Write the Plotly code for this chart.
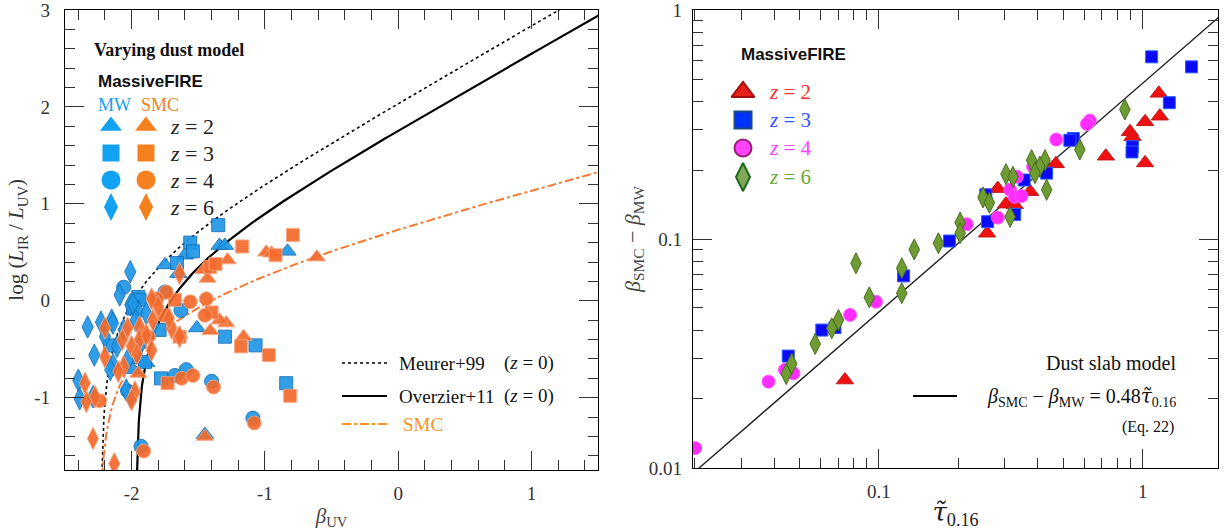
import numpy as np
import plotly.graph_objects as go

# ---------------- Left panel: IRX - beta relation ----------------
# MassiveFIRE galaxies, Milky-Way-type dust
mw_z2_beta = [-1.34, -1.30, -0.83, -1.60, -1.75, -1.65, -1.51, -1.45, -1.94, -1.89, -1.99]
mw_z2_irx = [0.57, 0.57, 0.51, 0.47, 0.37, 0.28, -0.28, -1.38, -0.61, -0.64, -0.71]
mw_z3_beta = [-1.35, -1.56, -1.54, -1.66, -1.95, -1.94, -1.99, -2.16, -1.30, -1.07, -1.78, -0.84, -1.79, -1.90]
mw_z3_irx = [0.78, 0.60, 0.51, 0.39, 0.04, 0.01, -0.08, -0.46, -0.37, -0.46, -0.80, -0.85, -0.30, -0.63]
mw_z4_beta = [-2.06, -1.75, -1.63, -1.675, -1.59, -1.40, -1.09, -1.93, -2.03]
mw_z4_irx = [0.14, 0.09, -0.10, -0.77, -0.71, -0.83, -1.21, -1.50, -0.93]
mw_z6_beta = [-2.01, -2.09, -2.33, -2.23, -2.15, -2.20, -2.28, -2.14, -2.14, -2.16, -2.01, -1.95,
              -1.93, -1.89, -2.11, -2.03, -2.01, -2.04, -2.40, -2.39, -2.29, -1.99, -1.97, -2.06]
mw_z6_irx = [0.30, 0.06, -0.27, -0.22, -0.20, -0.37, -0.56, -0.23, -0.66, -0.71, -0.04, -0.11,
             -0.44, -0.13, -0.47, -0.61, -0.99, -0.92, -0.82, -1.01, -0.99, -0.03, -0.20, -0.30]

# Same galaxies, SMC-type dust
smc_z2_beta = [-0.61, -0.99, -0.95, -1.28, -1.43, -1.46, -1.29, -1.34, -1.41, -1.16, -1.45, -1.95, -1.64]
smc_z2_irx = [0.45, 0.50, 0.49, 0.42, 0.23, 0.32, -0.23, -0.20, -0.31, -0.37, -1.40, -0.75, -0.35]
smc_z3_beta = [-0.79, -1.17, -0.92, -1.41, -1.675, -1.40, -1.64, -1.18, -0.97, -1.73, -0.81, -1.37]
smc_z3_irx = [0.68, 0.56, 0.47, 0.35, 0.01, -0.12, -0.37, -0.47, -0.56, -0.85, -0.98, 0.38]
smc_z4_beta = [-1.74, -1.56, -1.44, -1.45, -1.625, -1.54, -1.385, -1.08, -1.91, -2.24, -1.875, -1.76, -1.81]
smc_z4_irx = [0.09, -0.01, 0.02, -0.15, -0.80, -0.77, -0.89, -1.26, -1.55, -1.03, -0.37, -0.15, 0.02]
smc_z6_beta = [-1.64, -1.85, -1.80, -1.70, -1.64, -2.03, -1.94, -2.07, -2.00, -1.94, -1.89, -2.06, -2.10,
               -2.20, -2.20, -1.85, -1.84, -1.975, -2.00, -2.275, -2.34, -2.35, -2.29, -2.13, -1.72, -1.96]
smc_z6_irx = [0.28, 0.02, -0.06, -0.28, -0.37, -0.28, -0.27, -0.40, -0.47, -0.40, -0.35, -0.68, -0.73,
              -0.58, -0.28, -0.51, -0.20, -0.94, -1.02, -0.99, -1.04, -0.85, -1.42, -1.68, -0.18, -0.55]

# ---------------- Right panel: colour shift vs optical depth ----------------
tau_z2 = [1.15, 1.16, 1.02, 0.894, 0.914, 1.02, 0.724, 0.468, 0.374, 0.282, 0.303, 0.327, 0.257, 0.0743]
dbeta_z2 = [0.433, 0.344, 0.325, 0.294, 0.28, 0.215, 0.23, 0.213, 0.161, 0.166, 0.142, 0.141, 0.106, 0.0242]
tau_z3 = [1.08, 1.53, 1.26, 0.914, 0.91, 0.545, 0.529, 0.432, 0.355, 0.327, 0.258, 0.254, 0.185, 0.124,
          0.0607, 0.0681, 0.0453]
dbeta_z3 = [0.625, 0.565, 0.394, 0.253, 0.24, 0.275, 0.27, 0.194, 0.181, 0.128, 0.119, 0.156, 0.098, 0.069,
            0.040, 0.041, 0.0308]
tau_z4 = [0.63, 0.614, 0.47, 0.384, 0.333, 0.314, 0.327, 0.347, 0.282, 0.215, 0.0974, 0.0777, 0.0381,
          0.0474, 0.044, 0.0201]
dbeta_z4 = [0.329, 0.318, 0.272, 0.207, 0.187, 0.164, 0.153, 0.154, 0.124, 0.116, 0.0532, 0.0466, 0.0238,
            0.0259, 0.0268, 0.0122]
tau_z6 = [0.855, 0.577, 0.379, 0.426, 0.407, 0.39, 0.432, 0.303, 0.322, 0.314, 0.248, 0.262, 0.203, 0.203,
          0.168, 0.136, 0.122, 0.122, 0.0818, 0.0919, 0.0702, 0.0662, 0.0573, 0.0467, 0.0445]
dbeta_z6 = [0.368, 0.246, 0.221, 0.221, 0.207, 0.194, 0.164, 0.192, 0.187, 0.125, 0.152, 0.144, 0.118, 0.106,
            0.0958, 0.090, 0.0745, 0.058, 0.0783, 0.0556, 0.0443, 0.0407, 0.0348, 0.0285, 0.0257]

slab_slope = 0.48

# Reference IRX-beta relations: IRX = log10(c * (10^(0.4*A) - 1)), A = a + b*beta
meurer = dict(a=4.43, b=1.99, c=1.85)
overzier = dict(a=3.85, b=1.96, c=1.68)
smc_rel = dict(a=0.9 * 2.24, b=0.9, c=1.0)

SERIF = "Liberation Serif, Times New Roman, serif"
SANS = "Liberation Sans, Arial, sans-serif"
MW_FILL, MW_EDGE = "#1f97e6", "#1670b8"
SMC_FILL, SMC_EDGE = "#f26a2c", "#f6a27c"
MW_KEY, SMC_KEY = "#12a2f2", "#f5801e"
TAU = "<span style=\"font-family:DejaVu Serif\"><i>τ̃</i></span>"

W, H = 1229, 530


def irx_curve(rel, beta):
    arg = rel["c"] * (10 ** (0.4 * (rel["a"] + rel["b"] * beta)) - 1)
    out = np.full_like(beta, np.nan)
    ok = arg > 0
    out[ok] = np.log10(arg[ok])
    return out


fig = go.Figure()

# IRX-beta reference curves
for rel, dash, color, width, x0 in [
    (meurer, "dot", "black", 1.6, -2.226),
    (overzier, "solid", "black", 2.2, -1.9643),
    (smc_rel, "dashdot", "#f47a36", 2.0, -2.2399),
]:
    bb = np.concatenate([x0 + np.logspace(-5, -1, 80), np.linspace(x0 + 0.11, 1.6, 300)])
    fig.add_trace(go.Scatter(x=bb, y=irx_curve(rel, bb), mode="lines",
                             line=dict(color=color, dash=dash, width=width),
                             xaxis="x", yaxis="y", hoverinfo="skip", showlegend=False))

left_sets = [
    (mw_z2_beta, mw_z2_irx, "triangle-up", 15, MW_FILL, MW_EDGE),
    (mw_z3_beta, mw_z3_irx, "square", 13, MW_FILL, MW_EDGE),
    (mw_z4_beta, mw_z4_irx, "circle", 14, MW_FILL, MW_EDGE),
    (mw_z6_beta, mw_z6_irx, "diamond-tall", 16, MW_FILL, MW_EDGE),
    (smc_z2_beta, smc_z2_irx, "triangle-up", 15, SMC_FILL, SMC_EDGE),
    (smc_z3_beta, smc_z3_irx, "square", 13, SMC_FILL, SMC_EDGE),
    (smc_z4_beta, smc_z4_irx, "circle", 14, SMC_FILL, SMC_EDGE),
    (smc_z6_beta, smc_z6_irx, "diamond-tall", 16, SMC_FILL, SMC_EDGE),
]
for bx, by, sym, size, fill, edge in left_sets:
    fig.add_trace(go.Scatter(x=bx, y=by, mode="markers", xaxis="x", yaxis="y",
                             marker=dict(symbol=sym, size=size, color=fill, opacity=0.92,
                                         line=dict(color=edge, width=1)),
                             showlegend=False))

# Dust slab model line
tt = np.logspace(-2.2, 0.5, 50)
fig.add_trace(go.Scatter(x=tt, y=slab_slope * tt, mode="lines", xaxis="x2", yaxis="y2",
                         line=dict(color="#222222", width=1.4), showlegend=False))

right_sets = [
    (tau_z2, dbeta_z2, "triangle-up", 15, "#f01010", "#c01818"),
    (tau_z3, dbeta_z3, "square", 12, "#0a0af5", "#2a5cff"),
    (tau_z4, dbeta_z4, "circle", 13, "#ff2cff", "#ff5cff"),
    (tau_z6, dbeta_z6, "diamond-tall", 15, "#6e9b32", "#476e1e"),
]
for tx, ty, sym, size, fill, edge in right_sets:
    fig.add_trace(go.Scatter(x=tx, y=ty, mode="markers", xaxis="x2", yaxis="y2",
                             marker=dict(symbol=sym, size=size, color=fill,
                                         line=dict(color=edge, width=1)),
                             showlegend=False))

# ---------- keys, placed on a full-figure pixel frame ----------
def key_marker(x, y, sym, size, fill, edge, lw=1):
    fig.add_trace(go.Scatter(x=[x], y=[y], mode="markers", xaxis="x3", yaxis="y3",
                             marker=dict(symbol=sym, size=size, color=fill, line=dict(color=edge, width=lw)),
                             showlegend=False, hoverinfo="skip"))


def key_line(x0, x1, y, dash, color, width):
    fig.add_trace(go.Scatter(x=[x0, x1], y=[y, y], mode="lines", xaxis="x3", yaxis="y3",
                             line=dict(color=color, dash=dash, width=width),
                             showlegend=False, hoverinfo="skip"))


ann = []


def text(x, y, s, size, color="#111111", family=SERIF, anchor="left"):
    ann.append(dict(x=x, y=y, xref="x3", yref="y3", text=s, showarrow=False,
                    xanchor=anchor, yanchor="middle", font=dict(size=size, color=color, family=family)))


z_labels = ["2", "3", "4", "6"]
key_syms = [("triangle-up", 19), ("square", 17), ("circle", 19), ("diamond-tall", 20)]
rows_left = [126, 153, 180, 207]
text(92, 50, "<b>Varying dust model</b>", 18)
text(96, 81, "<b>MassiveFIRE</b>", 17, family=SANS)
text(96, 105, "MW", 18, MW_KEY)
text(139, 105, "SMC", 18, SMC_KEY)
for (sym, sz), yy, zl in zip(key_syms, rows_left, z_labels):
    key_marker(111, yy, sym, sz, MW_KEY, MW_KEY, 0)
    key_marker(146, yy, sym, sz, SMC_KEY, SMC_KEY, 0)
    text(168, yy, "<i>z</i> = " + zl, 22, "#222222")

key_line(342, 387, 363, "dot", "black", 1.6)
key_line(342, 387, 396, "solid", "black", 2.2)
key_line(342, 387, 424, "dashdot", "#f7941d", 2.0)
text(397, 363, "Meurer+99", 19)
text(502, 363, "(<i>z</i> = 0)", 19)
text(397, 396, "Overzier+11", 19)
text(502, 396, "(<i>z</i> = 0)", 19)
text(401, 424, "SMC", 19, "#f7941d")

rows_right = [92, 120, 148, 177]
right_key = [
    ("triangle-up", 20, "#e8201a", "#a01010", "#ff3030"),
    ("square", 17, "#0033ff", "#1a4a80", "#3355ff"),
    ("circle", 17, "#ff44ff", "#991f77", "#ff44ff"),
    ("diamond-tall", 20, "#84a85a", "#1a6b1a", "#6aa837"),
]
text(739, 54, "<b>MassiveFIRE</b>", 17, family=SANS)
for (sym, sz, fill, edge, tcol), yy, zl in zip(right_key, rows_right, z_labels):
    key_marker(743, yy, sym, sz, fill, edge, 2)
    text(767, yy, "<i>z</i> = " + zl, 21, tcol)

text(1178, 363, "Dust slab model", 20, anchor="right")
key_line(913, 957, 396, "solid", "black", 1.8)
text(1178, 397, "<i>β</i><sub>SMC</sub> − <i>β</i><sub>MW</sub> = 0.48" + TAU + "<sub>0.16</sub>", 20,
     anchor="right")
text(1176, 427, "(Eq. 22)", 16, anchor="right")

# ---------- axes ----------
tickfont = dict(family=SERIF, size=19, color="#333333")
common = dict(showline=True, linecolor="black", linewidth=1.3, mirror="allticks",
              ticks="inside", ticklen=19, tickwidth=1.2, tickcolor="#333333",
              showgrid=False, zeroline=False, tickfont=tickfont, ticklabeloverflow="allow",
              automargin=False)
minor_lin = dict(dtick=0.2, tick0=0, ticks="inside", ticklen=10, tickcolor="#333333", showgrid=False)
minor_log = dict(tickvals=[0.02, 0.03, 0.04, 0.05, 0.06, 0.07, 0.08, 0.09,
                           0.2, 0.3, 0.4, 0.5, 0.6, 0.7, 0.8, 0.9],
                 ticks="inside", ticklen=10, tickcolor="#333333", showgrid=False)

left_xticks = [-2, -1, 0, 1]
left_yticks = [3, 2, 1, 0, -1]

fig.update_layout(
    width=W, height=H, margin=dict(l=0, r=0, t=0, b=0, autoexpand=False),
    paper_bgcolor="white", plot_bgcolor="rgba(0,0,0,0)",
    xaxis=dict(domain=[65 / W, 598 / W], range=[-2.5, 1.5], anchor="y",
               tickvals=left_xticks, ticktext=[str(v) for v in left_xticks],
               minor=minor_lin, ticklabelstandoff=6,
               title=dict(text="<i>β</i><sub>UV</sub>", font=dict(family=SERIF, size=21, color="#444444"),
                          standoff=8),
               **common),
    yaxis=dict(domain=[1 - 470 / H, 1 - 9.7 / H], range=[-1.745, 3.002], anchor="x",
               tickvals=left_yticks, ticktext=[str(v) for v in left_yticks],
               minor=minor_lin, ticklabelstandoff=10,
               title=dict(text="log (<i>L</i><sub>IR</sub> / <i>L</i><sub>UV</sub>)",
                          font=dict(family=SERIF, size=21, color="#333333"), standoff=4),
               **common),
    xaxis2=dict(domain=[693 / W, 1218 / W], type="log", range=[-1.705, 0.285], anchor="y2",
                tickvals=[0.1, 1], ticktext=["0.1", "1"],
                minor=minor_log, ticklabelstandoff=6,
                title=dict(text=TAU + "<sub>0.16</sub>", font=dict(family=SERIF, size=26, color="#222222"),
                           standoff=4),
                **common),
    yaxis2=dict(domain=[1 - 468 / H, 1 - 10 / H], type="log", range=[-2.0005, 0.0005], anchor="x2",
                tickvals=[0.01, 0.1, 1], ticktext=["0.01", "0.1", "1"],
                minor=minor_log, ticklabelstandoff=6,
                title=dict(text="<i>β</i><sub>SMC</sub> − <i>β</i><sub>MW</sub>",
                           font=dict(family=SERIF, size=22, color="#444444"), standoff=2),
                **common),
    xaxis3=dict(domain=[0, 1], range=[0, W], visible=False, anchor="y3", fixedrange=True),
    yaxis3=dict(domain=[0, 1], range=[H, 0], visible=False, anchor="x3", fixedrange=True),
    annotations=ann,
    showlegend=False,
)

fig.write_html("out.html")
